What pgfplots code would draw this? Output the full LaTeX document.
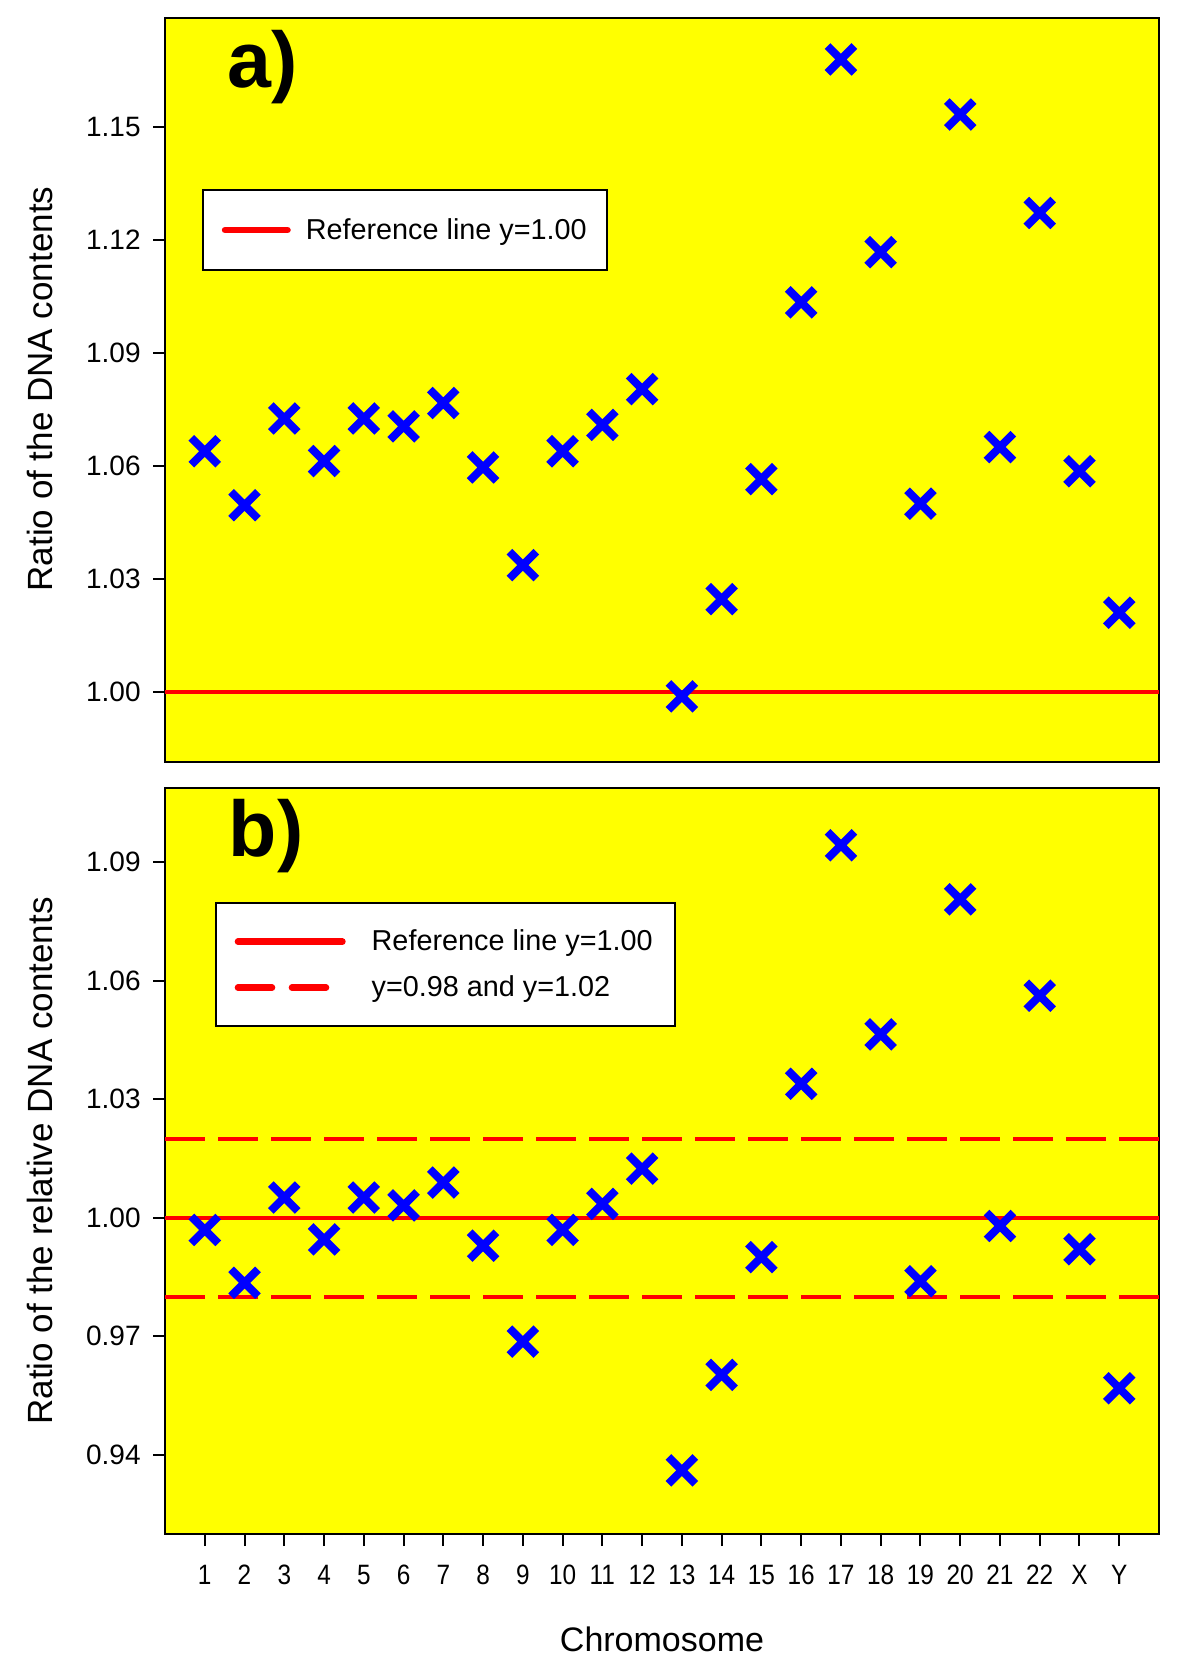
\documentclass[border=0pt]{standalone}
\usepackage{fontspec}
\setmainfont{Liberation Sans}
\usepackage{pgfplots}
\usepackage{pgfplotstable}
\pgfplotsset{compat=1.18}
\definecolor{BgYellow}{HTML}{FFFF00}
\definecolor{MarkBlue}{HTML}{0000FF}
\definecolor{RefRed}{HTML}{FF0000}

% chromosome index (23 = X, 24 = Y), panel a ratio, panel b relative ratio
\pgfplotstableread{
chr a      b
1   1.0639 0.9969
2   1.0496 0.9835
3   1.0726 1.0051
4   1.0613 0.9945
5   1.0726 1.0051
6   1.0705 1.0031
7   1.0767 1.0089
8   1.0596 0.9929
9   1.0337 0.9686
10  1.0639 0.9969
11  1.0709 1.0035
12  1.0804 1.0124
13  0.9989 0.9360
14  1.0247 0.9602
15  1.0565 0.9900
16  1.1034 1.0339
17  1.1678 1.0943
18  1.1167 1.0464
19  1.0500 0.9839
20  1.1532 1.0806
21  1.0650 0.9979
22  1.1271 1.0562
23  1.0586 0.9920
24  1.0211 0.9568
}\ratios

\newcommand\tickfont{\fontsize{14}{16}\selectfont}
\newcommand\legfont{\fontsize{14.4}{16}\selectfont}

\tikzset{panellabel/.style={anchor=base west, font=\fontsize{39.5}{42}\selectfont\bfseries}}

\pgfplotsset{
  panel/.style={
    scale only axis, width=497pt, xmin=0, xmax=25,
    axis background/.style={fill=BgYellow},
    axis line style={line width=1pt},
    tick align=outside, xtick pos=bottom, ytick pos=left,
    major tick length=6pt, tick style={line width=1pt, black},
    tick label style={font=\tickfont},
    yticklabel style={inner sep=0pt, xshift=-6pt,
      /pgf/number format/fixed, /pgf/number format/fixed zerofill,
      /pgf/number format/precision=2, /pgf/number format/assume math mode=true},
    legend style={draw=black, line width=1pt, fill=white, font=\legfont,
      inner xsep=0pt, nodes={inner sep=0pt}, anchor=north west},
    legend cell align=left,
  },
  % padded box, then a thick line ending at the given x
  legline/.style 2 args={legend image code/.code={
    \path[draw=none, fill=none] (-9.5pt,-11.5pt) rectangle (#1,11.5pt);
    \draw[##1, line width=3.3pt, line cap=round] (1.65pt,0pt) -- (#2,0pt);}},
  legdash/.style={legend image code/.code={
    \path[draw=none, fill=none] (-9.5pt,-11.5pt) rectangle (#1,11.5pt);
    \draw[##1, line width=3.3pt, line cap=round, dash pattern=on 17pt off 10pt]
      (1.65pt,0pt) -- (45.65pt,0pt);}},
  crosses/.style={only marks, mark=x, mark size=9.5pt,
    mark options={line width=4pt, MarkBlue}, forget plot},
}

\begin{document}
\begin{tikzpicture}
\path[use as bounding box] (0pt,0pt) rectangle (600pt,829.5pt);
% panel a
\begin{axis}[panel, at={(82.5pt,448.5pt)}, anchor=south west, height=372pt,
  ymin=0.9815, ymax=1.1788, ytick={1.00,1.03,1.06,1.09,1.12,1.15}, xtick=\empty,
  legend style={at={(rel axis cs:0.037,0.77)}, inner ysep=8.5pt}]
\addplot[RefRed, line width=2pt, legline={42pt}{32.85pt}]
  coordinates {(0,1) (25,1)};
\addlegendentry{Reference line y=1.00\hspace*{10pt}}
\addplot[crosses] table[x=chr, y=a] {\ratios};
\node[panellabel] at (rel axis cs:0.056,0.906) {a)};
\end{axis}
% panel b
\begin{axis}[panel, at={(82.5pt,62.5pt)}, anchor=south west, height=373pt,
  ymin=0.9199, ymax=1.1088, ytick={0.94,0.97,1.00,1.03,1.06,1.09},
  xtick={1,...,24},
  xticklabels={1,2,3,4,5,6,7,8,9,10,11,12,13,14,15,16,17,18,19,20,21,22,X,Y},
  xticklabel style={anchor=base, inner sep=0pt, yshift=-19pt, xscale=0.87},
  legend style={at={(rel axis cs:0.050,0.847)}, inner ysep=7.75pt}]
\addplot[RefRed, line width=2pt, legline={68.5pt}{53.85pt}]
  coordinates {(0,1) (25,1)};
\addlegendentry{Reference line y=1.00\hspace*{11pt}}
\addplot[RefRed, line width=2pt, dash pattern=on 20pt off 6.5pt, legdash={68.5pt}]
  coordinates {(0,0.98) (25,0.98)};
\addlegendentry{y=0.98 and y=1.02}
\addplot[RefRed, line width=2pt, dash pattern=on 20pt off 6.5pt, forget plot]
  coordinates {(0,1.02) (25,1.02)};
\addplot[crosses] table[x=chr, y=b] {\ratios};
\node[panellabel] at (rel axis cs:0.057,0.9075) {b)};
\end{axis}
\node[rotate=90, font=\fontsize{17.5}{20}\selectfont] at (20pt,635pt) {Ratio of the DNA contents};
\node[rotate=90, font=\fontsize{17.5}{20}\selectfont] at (20pt,249pt) {Ratio of the relative DNA contents};
\node[anchor=base, font=\fontsize{17}{19}\selectfont] at (331pt,4pt) {Chromosome};
\end{tikzpicture}
\end{document}
